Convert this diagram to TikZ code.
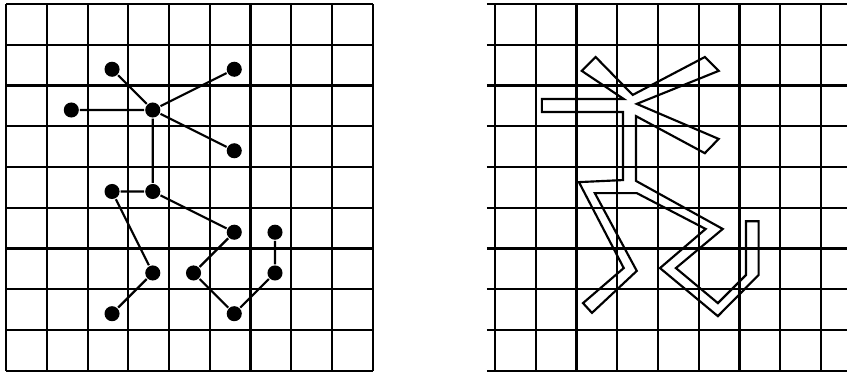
\documentclass[tikz,border=0pt]{standalone}
\begin{document}
\begin{tikzpicture}[line width=1.5pt,every node/.style={circle,fill,inner sep=0pt,minimum size=0.37cm}]
% Tree on a grid (left) and its thickened outline (right)
\clip (-0.15,-0.01) rectangle (20.64,9.10);
\draw (0,0) grid (9,9);
\draw (11.8,0) grid (20.8,9);
\node (v1) at (2.6,7.4) {};
\node (v2) at (1.6,6.4) {};
\node (hub) at (3.6,6.4) {};
\node (v3) at (5.6,7.4) {};
\node (v4) at (5.6,5.4) {};
\node (v5) at (2.6,4.4) {};
\node (fork) at (3.6,4.4) {};
\node (v6) at (5.6,3.4) {};
\node (v7) at (6.6,3.4) {};
\node (v8) at (3.6,2.4) {};
\node (v9) at (4.6,2.4) {};
\node (v10) at (6.6,2.4) {};
\node (v11) at (2.6,1.4) {};
\node (v12) at (5.6,1.4) {};
\draw (v1)--(hub) (v2)--(hub) (hub)--(v3) (hub)--(v4) (hub)--(fork);
\draw (v5)--(fork)--(v6)--(v9)--(v12)--(v10)--(v7);
\draw (v5)--(v8)--(v11);
\draw[shift={(11.8,0)}] (1.35,6.67)--(3.36,6.67)--(2.33,7.36)--(2.67,7.70)--(3.58,6.77)--(5.35,7.70)--(5.69,7.36)--(3.68,6.55)--(5.69,5.69)--(5.35,5.34)--(3.66,6.25)--(3.66,4.66)--(5.79,3.48)--(4.64,2.52)--(5.67,1.66)--(6.36,2.35)--(6.36,3.67)--(6.67,3.67)--(6.67,2.35)--(5.67,1.34)--(4.25,2.52)--(5.37,3.48)--(3.68,4.36)--(2.65,4.36)--(3.68,2.45)--(2.58,1.42)--(2.36,1.66)--(3.36,2.52)--(2.26,4.63)--(3.34,4.68)--(3.34,6.35)--(1.35,6.35)--cycle;
\end{tikzpicture}
\end{document}
